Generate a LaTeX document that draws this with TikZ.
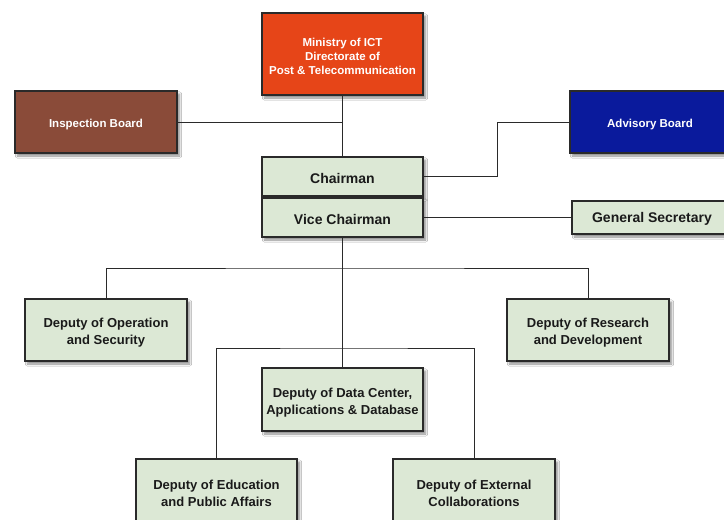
\documentclass[tikz,border=0pt]{standalone}
\usepackage{fontspec}
\setmainfont{Liberation Sans}
\usetikzlibrary{shadows.blur}
\definecolor{ministry}{HTML}{E64518}
\definecolor{inspect}{HTML}{8A4B39}
\definecolor{advisory}{HTML}{0A1A9C}
\definecolor{office}{HTML}{DCE8D5}
\definecolor{edge}{HTML}{2A2A2A}
\definecolor{ink}{HTML}{1A1A1A}
% invisible strut on a first line: sets the text a little below the box centre
\newcommand\capstrut[1]{\rule{0pt}{#1}}
\tikzset{
  box/.style={rectangle, draw=edge, line width=1.1pt, align=center, inner sep=0pt,
    blur shadow={shadow xshift=2.5pt, shadow yshift=-3pt, shadow blur steps=6, shadow opacity=45}},
  topbox/.style={box, text=white, font=\bfseries\fontsize{11.5}{14}\selectfont},
  headbox/.style={box, fill=office, text=ink, font=\bfseries\fontsize{14}{17}\selectfont},
  deputybox/.style={box, fill=office, text=ink, font=\bfseries\fontsize{13}{17}\selectfont},
  link/.style={draw=edge, line width=0.9pt}
}
\begin{document}
\begin{tikzpicture}[x=1pt, y=-1pt]
\useasboundingbox (0,0) rectangle (724,520);
\fill[white] (0,0) rectangle (724,520);

% top level bodies
\node[topbox, fill=ministry, minimum width=161pt, minimum height=82pt] (min) at (342.5,54) {\capstrut{12.5pt}Ministry of ICT\\Directorate of\\Post \& Telecommunication};
\node[topbox, fill=inspect, minimum width=162pt, minimum height=62pt] (insp) at (96,122) {\capstrut{13pt}Inspection Board};
\node[topbox, fill=advisory, minimum width=160pt, minimum height=62pt] (adv) at (650,122) {\capstrut{13pt}Advisory Board};

% chair offices
\node[headbox, minimum width=161pt, minimum height=39pt] (ch) at (342.5,176.5) {\capstrut{13.5pt}Chairman};
\node[headbox, minimum width=161pt, minimum height=39pt] (vc) at (342.5,217.5) {\capstrut{13.5pt}Vice Chairman};
\node[headbox, minimum width=160pt, minimum height=33pt] (gs) at (652,217.5) {\capstrut{13.5pt}General Secretary};

% deputies
\node[deputybox, minimum width=162pt, minimum height=62pt] (op) at (106,330) {\capstrut{15pt}Deputy of Operation\\and Security};
\node[deputybox, minimum width=162pt, minimum height=62pt] (rd) at (588,330) {\capstrut{15pt}Deputy of Research\\and Development};
\node[deputybox, minimum width=161pt, minimum height=63pt] (dc) at (342.5,399.5) {\capstrut{15pt}Deputy of Data Center,\\Applications \& Database};
\node[deputybox, minimum width=161pt, minimum height=64pt] (ed) at (216.5,491) {\capstrut{15pt}Deputy of Education\\and Public Affairs};
\node[deputybox, minimum width=162pt, minimum height=64pt] (ex) at (474,491) {\capstrut{15pt}Deputy of External\\Collaborations};

% junction points
\coordinate (advbend) at (497,122);
\coordinate (bus1) at (342.5,268);
\coordinate (bus2) at (342.5,348);

% connectors
\draw[link] (min.south) -- (ch.north);
\draw[link] (insp.east) -- (insp.east -| min.south);
\draw[link] (adv.west) -- (advbend) |- (ch.east);
\draw[link] (vc.east) -- (gs.west);
\draw[link] (vc.south) -- (dc.north);
\draw[link] (op.north) |- (bus1) -| (rd.north);
\draw[link] (ed.north) |- (bus2) -| (ex.north);
\end{tikzpicture}
\end{document}
